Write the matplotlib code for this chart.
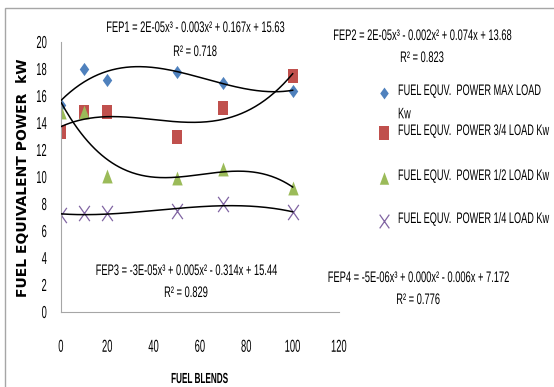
import numpy as np
import matplotlib.pyplot as plt
from matplotlib.lines import Line2D
from matplotlib.patches import Rectangle
from matplotlib.path import Path
from matplotlib.patheffects import AbstractPathEffect
from matplotlib.transforms import Affine2D

# fuel blend percentages and fuel equivalent power (kW) per load
blends = [0, 10, 20, 50, 70, 100]
fep_max = [15.3, 18.0, 17.2, 17.8, 17.0, 16.4]
fep_34 = [13.3, 14.8, 14.8, 13.0, 15.1, 17.5]
fep_12 = [14.8, 14.8, 10.1, 9.9, 10.6, 9.2]
fep_14 = [7.2, 7.3, 7.3, 7.5, 8.0, 7.4]

labels = ['FUEL EQUV.  POWER MAX LOAD\nKw',
          'FUEL EQUV.  POWER 3/4 LOAD Kw',
          'FUEL EQUV.  POWER 1/2 LOAD Kw',
          'FUEL EQUV.  POWER 1/4 LOAD Kw']
equations = [('FEP1 = 2E-05x³ - 0.003x² + 0.167x + 15.63', 'R² = 0.718'),
             ('FEP2 = 2E-05x³ - 0.002x² + 0.074x + 13.68', 'R² = 0.823'),
             ('FEP3 = -3E-05x³ + 0.005x² - 0.314x + 15.44', 'R² = 0.829'),
             ('FEP4 = -5E-06x³ + 0.000x² - 0.006x + 7.172', 'R² = 0.776')]

xticks = [0, 20, 40, 60, 80, 100, 120]
yticks = [0, 2, 4, 6, 8, 10, 12, 14, 16, 18, 20]

plt.rcParams['font.family'] = ['Liberation Sans', 'DejaVu Sans']


class Squeeze(AbstractPathEffect):
    """Draws text glyphs narrower, keeping the given anchor of each line fixed."""

    def __init__(self, sx=0.65, anchor='center'):
        super().__init__()
        self.sx = sx
        self.anchor = anchor

    def draw_path(self, renderer, gc, tpath, affine, rgbFace=None):
        xs = tpath.vertices[:, 0]
        if len(xs) == 0:
            return
        x0 = {'left': 0.0, 'right': xs.max(),
              'center': 0.5 * (xs.min() + xs.max())}[self.anchor]
        sq = Affine2D().translate(-x0, 0).scale(self.sx, 1).translate(x0, 0)
        renderer.draw_path(gc, tpath, sq + affine, rgbFace)


# narrow marker shapes
diamond = Path([(0, 1), (0.72, 0), (0, -1), (-0.72, 0), (0, 1)], closed=True)
square = Path([(-0.75, -1), (0.75, -1), (0.75, 1), (-0.75, 1), (-0.75, -1)], closed=True)
triangle = Path([(0, 1), (0.75, -1), (-0.75, -1), (0, 1)], closed=True)
cross = Path([(-0.7, -1), (0.7, 1), (-0.7, 1), (0.7, -1)],
             [Path.MOVETO, Path.LINETO, Path.MOVETO, Path.LINETO])

styles = [dict(marker=diamond, color='#4F81BD', ms=9.5, mew=0),
          dict(marker=square, color='#C0504D', ms=10.5, mew=0),
          dict(marker=triangle, color='#9BBB59', ms=10, mew=0),
          dict(marker=cross, color='#8064A2', mfc='none', ms=11, mew=0.9)]

fig = plt.figure(figsize=(5.54, 3.87), dpi=100)
fig.add_artist(Rectangle((5 / 554, -0.1), 1.2, 1 - 8 / 387 + 0.1,
                         transform=fig.transFigure, fill=False,
                         edgecolor='#A6A6A6', lw=1.0))

ax = fig.add_axes([61 / 554, 1 - 312 / 387, 278 / 554, 270 / 387])
series = [fep_max, fep_34, fep_12, fep_14]
xs = np.linspace(0, 100, 200)
for vals, st in zip(series, styles):
    coef = np.polyfit(blends, vals, 3)
    ax.plot(blends, vals, ls='none', zorder=2, **st)
    ax.plot(xs, np.polyval(coef, xs), color='black', lw=1.1, zorder=3)

ax.set_xlim(0, 120)
ax.set_ylim(0, 20)
ax.set_xticks(xticks)
ax.set_yticks(yticks)
ax.tick_params(length=0, labelsize=12.5)
ax.tick_params(axis='x', pad=20)
ax.tick_params(axis='y', pad=10)
for lab in ax.get_xticklabels():
    lab.set_path_effects([Squeeze(0.54, 'center')])
for lab in ax.get_yticklabels():
    lab.set_path_effects([Squeeze(0.54, 'right')])
for side in ['top', 'right']:
    ax.spines[side].set_visible(False)
for side in ['left', 'bottom']:
    ax.spines[side].set_color('#A6A6A6')
ax.patch.set_alpha(0)

fig.text(200 / 554, 1 - 379 / 387, 'FUEL BLENDS', ha='center', va='center',
         fontsize=10.5, fontweight='bold', path_effects=[Squeeze(0.56, 'center')])
fig.text(23 / 554, 1 - 178 / 387, 'FUEL EQUIVALENT POWER  kW', rotation=90,
         ha='center', va='center', fontsize=10, fontweight='bold',
         family='DejaVu Sans')

# trendline equations
eq_pos = [(195, 28, 52), (422, 36, 58), (186, 271, 293), (418, 278, 300)]
for (px, py1, py2), (line1, line2) in zip(eq_pos, equations):
    for py, txt in [(py1, line1), (py2, line2)]:
        fig.text(px / 554, 1 - py / 387, txt, ha='center', va='center',
                 fontsize=11, path_effects=[Squeeze(0.61, 'center')])

# legend
leg_y = [93, 133, 178, 221]
for ly, lab, st in zip(leg_y, labels, styles):
    st = dict(st, ms=st['ms'] * 0.9)
    fig.add_artist(Line2D([384 / 554], [1 - ly / 387], ls='none',
                          transform=fig.transFigure, **st))
    fig.text(398 / 554, 1 - (ly - 9) / 387, lab, ha='left', va='top',
             fontsize=11, linespacing=1.85,
             path_effects=[Squeeze(0.6, 'left')])

fig.savefig('out.png', dpi=100)
